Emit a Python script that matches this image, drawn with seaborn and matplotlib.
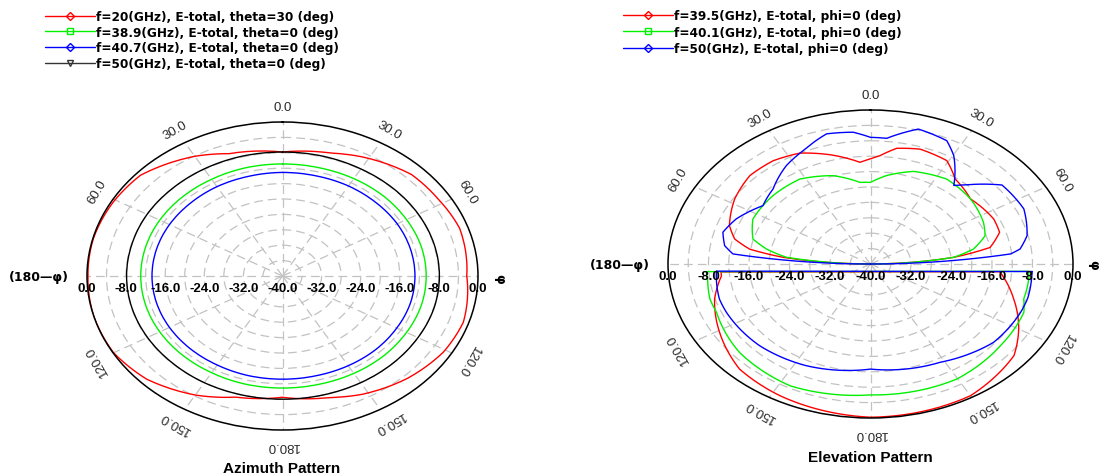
import numpy as np
import matplotlib
matplotlib.use("Agg")
import matplotlib.pyplot as plt
import seaborn as sns
from matplotlib.lines import Line2D
from matplotlib.transforms import offset_copy

# ---------------- Azimuth pattern data (deg clockwise from top, dB) ----------------
az_ang = list(range(0, 361, 15))
az_black_db = [-7.8, -7.8, -7.9, -7.9, -7.9, -7.9, -7.9, -7.9, -8.0, -8.0, -8.0, -8.0, -8.0,
               -8.0, -8.0, -8.1, -8.1, -8.1, -8.1, -8.1, -8.0, -8.0, -7.9, -7.8, -7.8]
az_green_db = [-10.9, -10.9, -10.8, -10.7, -10.7, -10.6, -10.6, -10.6, -10.7, -10.7, -10.8, -10.9, -10.9,
               -10.9, -11.0, -11.0, -11.0, -11.0, -11.0, -11.0, -11.0, -11.0, -11.0, -10.9, -10.9]
az_blue_db = [-13.1, -13.1, -13.0, -13.0, -12.9, -12.9, -12.9, -12.9, -13.0, -13.0, -13.1, -13.2, -13.2,
              -13.2, -13.3, -13.3, -13.3, -13.3, -13.3, -13.3, -13.3, -13.3, -13.2, -13.2, -13.1]
az_red_ang = [0, 17, 28, 45, 58, 71, 90, 108, 121, 136, 152, 163, 180, 197, 210, 226, 240, 255,
              270, 284, 299, 312, 330, 341, 360]
az_red_db = [-7.8, -6.6, -5.0, -2.7, -2.4, -1.7, -2.3, -1.1, -1.6, -3.1, -5.2, -7.0, -8.5, -7.1,
             -4.3, -1.4, -0.1, 0.0, -0.2, -0.1, -0.4, -0.9, -4.1, -6.4, -7.8]

az_labels = ["f=20(GHz), E-total, theta=30 (deg)",
             "f=38.9(GHz), E-total, theta=0 (deg)",
             "f=40.7(GHz), E-total, theta=0 (deg)",
             "f=50(GHz), E-total, theta=0 (deg)"]

# ---------------- Elevation pattern data ----------------
el_red_up_ang = [-90, -84.3, -80.8, -76.4, -70.3, -57.8, -46, -35.6, -25.8, -15, -4.5, 0, 3.8, 9.8,
                 18.2, 29.3, 37.1, 49.4, 64.3, 72.1, 79.7, 84, 90]
el_red_up_db = [-40, -22.7, -15.8, -12.4, -10.4, -8.3, -6.9, -7.0, -8.0, -10.7, -13.5, -12.7, -11.8,
                -9.5, -8.6, -9.2, -12.3, -14.0, -13.0, -13.2, -16.0, -23.5, -40]
el_red_low_ang = [94.5, 107.8, 120, 130, 150, 180, 207.6, 223.5, 239.2, 253.6, 264, 266]
el_red_low_db = [-14.4, -10.3, -6.2, -3.0, -0.5, -0.2, -1.4, -2.4, -5.3, -7.9, -10.4, -10.4]

el_green_up_ang = [-90, -84, -79.3, -74.4, -63.3, -47.3, -32.3, -17.8, -5.6, 0, 7.9, 19.4, 34.3,
                   49.4, 64.1, 72, 79.2, 84, 90]
el_green_up_db = [-40, -23.3, -19.1, -15.9, -14.0, -13.8, -13.9, -15.9, -18.7, -18.8, -16.8, -14.5,
                  -13.3, -14.0, -15.2, -16.2, -19.3, -23.5, -40]
el_green_low_ang = [93.5, 97, 106.7, 112.5, 129.6, 150.3, 180, 206.7, 228.4, 247.6, 254, 263, 266.5]
el_green_low_db = [-8.7, -8.5, -8.4, -7.2, -6.7, -5.6, -6.0, -4.6, -5.4, -7.1, -7.0, -7.6, -7.5]

el_blue_up_ang = [-90, -84.5, -80.6, -74.2, -66.2, -54.5, -44.6, -33, -24.3, -14.4, -5.7, 0, 5.6,
                  15.1, 25.2, 30.3, 38.9, 42.4, 51.7, 64.7, 76.6, 82.5, 84.6, 90]
el_blue_up_db = [-40, -12.7, -10.8, -9.7, -11.0, -13.9, -12.6, -9.5, -7.7, -5.1, -5.6, -7.1, -7.2,
                 -3.7, -4.6, -7.4, -13.8, -12.2, -6.9, -6.5, -8.2, -10.2, -12.2, -40]
el_blue_low_ang = [93.5, 95.4, 106, 113, 130, 151.7, 180, 205.6, 226, 246, 253, 262.7, 266.5]
el_blue_low_db = [-8.0, -8.0, -7.7, -7.8, -8.3, -11.0, -12.7, -10.7, -9.5, -8.9, -8.8, -9.3, -9.5]

el_labels = ["f=39.5(GHz), E-total, phi=0 (deg)",
             "f=40.1(GHz), E-total, phi=0 (deg)",
             "f=50(GHz), E-total, phi=0 (deg)"]

r_ticks = [0, -8, -16, -24, -32]
ang_ticks = [0, 30, 60, 120, 150, 180, 210, 240, 300, 330]

RED, GREEN, BLUE, BLACK = "#ff0000", "#00f000", "#0000ff", "#000000"

sns.set_theme(style="white")
plt.rcParams["font.family"] = ["Liberation Sans", "DejaVu Sans"]
plt.rcParams["text.color"] = "black"

fig = plt.figure(figsize=(10.99, 4.77), dpi=100)
fig.patch.set_facecolor("white")


def setup_polar(rect):
    ax = fig.add_axes(rect, projection="polar")
    ax.set_aspect("auto")
    ax.set_theta_zero_location("N")
    ax.set_theta_direction(-1)
    ax.set_ylim(-40, 0)
    ax.set_rgrids(np.arange(-36, 0, 4))
    ax.set_thetagrids(np.arange(0, 360, 30))
    ax.set_xticklabels([])
    ax.set_yticklabels([])
    ax.grid(True, color="#c2c2c2", linestyle=(0, (7, 4)), linewidth=0.9)
    ax.spines["polar"].set_color("black")
    ax.spines["polar"].set_linewidth(1.1)
    ax.set_facecolor("white")
    # radial labels along the horizontal axis
    tr = offset_copy(ax.transData, fig=fig, x=0, y=-12, units="dots")
    for v in r_ticks:
        for side in (np.pi / 2, 3 * np.pi / 2):
            ax.text(side, v, f"{v:.1f}", transform=tr, ha="center", va="center",
                    fontsize=9.5, fontweight="bold", color="black", clip_on=False)
    ax.text(0, -40, "-40.0", transform=tr, ha="center", va="center",
            fontsize=9.5, fontweight="bold", color="black", clip_on=False)
    # angular labels
    for a in ang_ticks:
        shown = a if a <= 180 else 360 - a
        ax.text(np.deg2rad(a), 3.8, f"{shown:.1f}", ha="center", va="center",
                rotation=-a, rotation_mode="anchor", fontsize=9.5, color="#2a2a2a",
                clip_on=False)
    return ax


def draw(ax, ang, db, color, smooth=True, chord=False):
    a = np.deg2rad(np.asarray(ang, dtype=float))
    d = np.asarray(db, dtype=float)
    sns.lineplot(x=a, y=d, ax=ax, sort=False, estimator=None, color=color,
                 linewidth=1.0, legend=False)
    if smooth:
        # follow the polar grid between read points (curved, like the original trace)
        ax.lines[-1].get_path()._interpolation_steps = 12
    if chord:
        # straight closing segment of the lower lobe
        sns.lineplot(x=[a[-1], a[0]], y=[d[-1], d[0]], ax=ax, sort=False,
                     estimator=None, color=color, linewidth=1.0, legend=False)
    ax.set_xlabel("")
    ax.set_ylabel("")


# ---------------- Azimuth ----------------
ax1 = setup_polar([87 / 1099, 46 / 477, 391 / 1099, 308 / 477])
draw(ax1, az_red_ang, az_red_db, RED)
draw(ax1, az_ang, az_green_db, GREEN)
draw(ax1, az_ang, az_blue_db, BLUE)
draw(ax1, az_ang, az_black_db, BLACK)
ax1.set_ylim(-40, 0)

# ---------------- Elevation ----------------
ax2 = setup_polar([668 / 1099, 58 / 477, 405 / 1099, 308 / 477])
draw(ax2, el_red_up_ang, el_red_up_db, RED)
draw(ax2, el_red_low_ang, el_red_low_db, RED, chord=True)
draw(ax2, el_green_up_ang, el_green_up_db, GREEN)
draw(ax2, el_green_low_ang, el_green_low_db, GREEN, chord=True)
draw(ax2, el_blue_up_ang, el_blue_up_db, BLUE)
draw(ax2, el_blue_low_ang, el_blue_low_db, BLUE, chord=True)
ax2.set_ylim(-40, 0)


def px(x, y):
    return x / 1099, 1 - y / 477


side_font = dict(fontsize=9, fontweight="bold", family=["DejaVu Sans"], color="black")
fig.text(*px(69, 278), "(180\u2014\u03c6)", ha="right", va="center", **side_font)
fig.text(*px(500, 279), "\u03c6", ha="center", va="center", rotation=-90, **side_font)
fig.text(*px(650, 265), "(180\u2014\u03c6)", ha="right", va="center", **side_font)
fig.text(*px(1094, 265), "\u03c6", ha="center", va="center", rotation=-90, **side_font)

fig.text(*px(282, 469), "Azimuth Pattern", ha="center", va="center", fontsize=11,
         fontweight="bold", color="black")
fig.text(*px(870, 458), "Elevation Pattern", ha="center", va="center", fontsize=11,
         fontweight="bold", color="black")


def handle(color, marker, ms=5):
    return Line2D([0], [0], color=color, lw=1.0, marker=marker, markersize=ms,
                  markerfacecolor="none", markeredgecolor=color, markeredgewidth=1.0)


leg_font = dict(family=["DejaVu Sans"], weight="bold", size=8.7)
az_handles = [handle(RED, "D", 4.5), handle(GREEN, "s", 4.5), handle(BLUE, "D", 4.5),
              handle("#333333", "v", 5)]
leg1 = fig.legend(az_handles, az_labels, loc="upper left", bbox_to_anchor=px(45, 11),
                  frameon=False, prop=leg_font, handlelength=4.1, handletextpad=0.15,
                  labelspacing=0.22, borderpad=0, borderaxespad=0)
for t in leg1.get_texts():
    t.set_color("black")

el_handles = [handle(RED, "D", 4.5), handle(GREEN, "s", 4.5), handle(BLUE, "D", 4.5)]
leg2 = fig.legend(el_handles, el_labels, loc="upper left", bbox_to_anchor=px(623, 10),
                  frameon=False, prop=leg_font, handlelength=4.1, handletextpad=0.15,
                  labelspacing=0.3, borderpad=0, borderaxespad=0)
for t in leg2.get_texts():
    t.set_color("black")

fig.savefig("out.png", dpi=100, facecolor="white")
